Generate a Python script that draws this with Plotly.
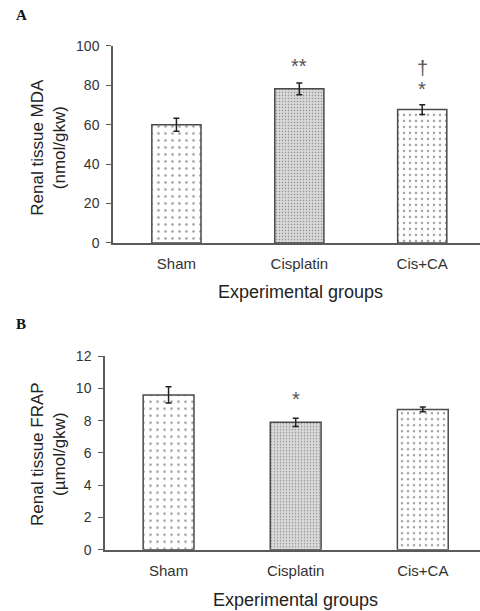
import plotly.graph_objects as go

groups = ["Sham", "Cisplatin", "Cis+CA"]
mda_values = [60.0, 78.2, 67.7]
mda_errors = [3.3, 3.0, 2.5]
frap_values = [9.6, 7.9, 8.7]
frap_errors = [0.5, 0.25, 0.15]
mda_ticks = [0, 20, 40, 60, 80, 100]
frap_ticks = [0, 2, 4, 6, 8, 10, 12]

W, H = 480, 611
def px(x):
    return x / W
def py(y):
    # empirical vertical correction
    y2 = (y - 7) / 0.976
    return 1 - y2 / H

bg = ["white", "#d9d9d9", "white"]
fg = ["#d2d2d2", "#cfcfcf", "#d2d2d2"]
sz = [7, 3, 6]
sol = [0.12, 0.2, 0.14]

fig = go.Figure()
for vals, errs, xa, ya in [(mda_values, mda_errors, "x", "y"), (frap_values, frap_errors, "x2", "y2")]:
    fig.add_trace(go.Bar(
        x=groups, y=vals, xaxis=xa, yaxis=ya, width=0.4,
        marker=dict(color=bg, line=dict(color="#4a4a4a", width=1.5),
                    pattern=dict(shape=".", bgcolor=bg, fgcolor=fg, size=sz, solidity=sol)),
        error_y=dict(type="data", array=errs, visible=True, color="#222", thickness=1.5, width=3),
        showlegend=False,
    ))

axis_common = dict(showline=True, linecolor="#5a5a5a", linewidth=1.5, showgrid=False, zeroline=False,
                   ticks="outside", ticklen=5, tickcolor="#5a5a5a", tickwidth=1.2, ticklabelstandoff=4,
                   tickfont=dict(family="Liberation Sans, Arial", size=14, color="#333"))
xcommon = dict(axis_common, ticks="", ticklabelstandoff=6,
               tickfont=dict(family="Liberation Sans, Arial", size=15, color="#333"))

fig.update_layout(
    width=W, height=H, margin=dict(l=0, r=0, t=0, b=0),
    paper_bgcolor="white", plot_bgcolor="white", bargap=0.6,
    xaxis=dict(xcommon, domain=[px(113), 1], range=[-0.516, 2.47], anchor="y"),
    yaxis=dict(axis_common, domain=[py(242.5), py(45)], range=[0, 100], tickvals=mda_ticks, anchor="x"),
    xaxis2=dict(xcommon, domain=[px(105), 1], range=[-0.5, 2.45], anchor="y2"),
    yaxis2=dict(axis_common, domain=[py(550), py(356)], range=[0, 12], tickvals=frap_ticks, anchor="x2"),
)

font_t = dict(family="Liberation Sans, Arial", size=17, color="#222")
ann = []
# y titles
ann.append(dict(text="Renal tissue MDA<br>(nmol/gkw)", x=px(49), y=py(147), textangle=-90, font=font_t))
ann.append(dict(text="Renal tissue FRAP<br>(µmol/gkw)", x=px(49), y=py(454), textangle=-90, font=font_t))
# x titles
ann.append(dict(text="Experimental groups", x=px(300), y=py(292), font=dict(font_t, size=18)))
ann.append(dict(text="Experimental groups", x=px(295), y=py(600), font=dict(font_t, size=18)))
# panel labels
ann.append(dict(text="<b>A</b>", x=px(21), y=py(14), font=dict(family="Liberation Serif, Times New Roman", size=15, color="#111")))
ann.append(dict(text="<b>B</b>", x=px(21), y=py(324), font=dict(family="Liberation Serif, Times New Roman", size=15, color="#111")))
for a in ann:
    a.update(xref="paper", yref="paper", showarrow=False, xanchor="center", yanchor="middle")

# significance marks
sig = [("x", "y", "Cisplatin", 90.0, "**"), ("x", "y", "Cis+CA", 78.0, "*"), ("x", "y", "Cis+CA", 89.0, "†"),
       ("x2", "y2", "Cisplatin", 9.35, "*")]
for xa, ya, xc, yv, t in sig:
    ann.append(dict(text=t, xref=xa, yref=ya, x=xc, y=yv, showarrow=False, xanchor="center", yanchor="middle",
                    font=dict(family="Liberation Sans, Arial", size=20, color="#555")))
fig.update_layout(annotations=ann)

post = ("document.documentElement.style.margin='0';document.body.style.margin='0';"
        "document.body.style.overflow='hidden';document.documentElement.style.overflow='hidden';"
        "var d=document.getElementById('{plot_id}');d.style.position='fixed';d.style.top='0px';d.style.left='0px';")
fig.write_html("out.html", config={"displayModeBar": False}, post_script=post)
